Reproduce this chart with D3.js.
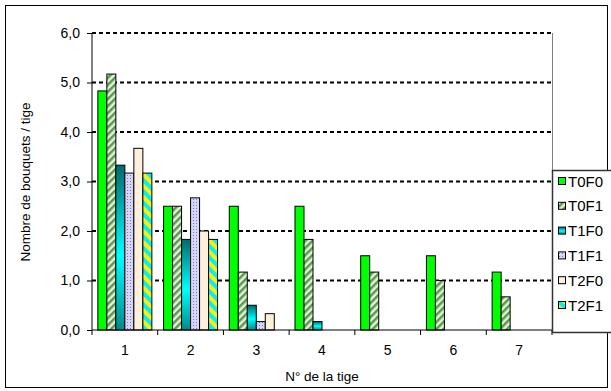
<!DOCTYPE html>
<html><head><meta charset="utf-8">
<script src="https://cdn.jsdelivr.net/npm/d3@7"></script>
<style>body{margin:0;background:#fff}svg{display:block}svg text{font-family:Arial,"Liberation Sans",sans-serif}</style>
</head><body><svg id="c" width="611" height="391"></svg>
<script>
const categories = ["1","2","3","4","5","6","7"];
const seriesNames = ["T0F0","T0F1","T1F0","T1F1","T2F0","T2F1"];
const T0F0 = [4.83,2.5,2.5,2.5,1.5,1.5,1.17];
const T0F1 = [5.17,2.5,1.17,1.83,1.17,1.0,0.67];
const T1F0 = [3.33,1.83,0.5,0.17,0,0,0];
const T1F1 = [3.17,2.67,0.17,0,0,0,0];
const T2F0 = [3.67,2.0,0.33,0,0,0,0];
const T2F1 = [3.17,1.83,0,0,0,0,0];
const yTicks = [0,1,2,3,4,5,6];
const seriesValues = [T0F0,T0F1,T1F0,T1F1,T2F0,T2F1];

const svg = d3.select("#c");
const defs = svg.append("defs");
function stripes(id, c1, c2, size, angle){
  const p = defs.append("pattern").attr("id",id).attr("patternUnits","userSpaceOnUse")
    .attr("width",size).attr("height",size).attr("patternTransform","rotate("+angle+")");
  p.append("rect").attr("width",size).attr("height",size).attr("fill",c1);
  p.append("rect").attr("width",size/2).attr("height",size).attr("fill",c2);
}
stripes("pT0F1","#eef3c6","#4f9a63",5,45);
stripes("pT2F1","#00f0ff","#ffee00",8,-45);
const g1 = defs.append("linearGradient").attr("id","gT1F0").attr("x1",0).attr("y1",0).attr("x2",0).attr("y2",1);
g1.append("stop").attr("offset","0%").attr("stop-color","#006a6a");
g1.append("stop").attr("offset","55%").attr("stop-color","#00ffff");
g1.append("stop").attr("offset","100%").attr("stop-color","#008a8a");
const pd = defs.append("pattern").attr("id","pT1F1").attr("patternUnits","userSpaceOnUse").attr("width",3).attr("height",3);
pd.append("rect").attr("width",3).attr("height",3).attr("fill","#d4d8f8");
pd.append("rect").attr("x",1).attr("y",1).attr("width",1).attr("height",1).attr("fill","#9a62c8");
const fills = ["#00ff00","url(#pT0F1)","url(#gT1F0)","url(#pT1F1)","#fff0dc","url(#pT2F1)"];

svg.append("rect").attr("x",5.5).attr("y",5.5).attr("width",602).attr("height",382)
  .attr("fill","none").attr("stroke","#000").attr("stroke-width",1);

const L=92, R=552, T=33, B=330;
const x = d3.scaleBand().domain(categories).range([L,R]).paddingInner(0).paddingOuter(0);
const y = d3.scaleLinear().domain([0,6]).range([B,T]);

svg.append("g").selectAll("line").data(yTicks.filter(d=>d>0)).join("line")
  .attr("x1",L).attr("x2",R).attr("y1",d=>y(d)).attr("y2",d=>y(d))
  .attr("stroke","#000").attr("stroke-width",2).attr("stroke-dasharray","4,3");
svg.append("line").attr("x1",R+0.5).attr("x2",R+0.5).attr("y1",T).attr("y2",B).attr("stroke","#808080");

const bw = x.bandwidth()/(6+1.3);
seriesNames.forEach((s,i)=>{
  svg.append("g").selectAll("rect").data(categories.map((c,j)=>({c,v:seriesValues[i][j]})).filter(d=>d.v>0)).join("rect")
    .attr("x",d=>x(d.c)+bw*0.65+i*bw).attr("width",bw)
    .attr("y",d=>y(d.v)).attr("height",d=>B-y(d.v))
    .attr("fill",fills[i]).attr("stroke","#000").attr("stroke-width",1);
});

const ya = svg.append("g").attr("transform",`translate(${L},0)`)
  .call(d3.axisLeft(y).tickValues(yTicks).tickSize(5).tickFormat(d=>d3.format(".1f")(d).replace(".",",")));
ya.select(".domain").attr("stroke","#000").attr("d",`M0,${T}V${B}`);
ya.selectAll("text").attr("font-size",14).attr("fill","#000").attr("x",-12);
const xa = svg.append("g").attr("transform",`translate(0,${B})`)
  .call(d3.axisBottom(x).tickSize(0).tickPadding(15));
xa.select(".domain").attr("stroke","#000").attr("d",`M${L},0H${R}`);
xa.selectAll("text").attr("font-size",14).attr("fill","#000");
xa.selectAll("line.sep").data(categories.concat(["end"])).join("line").attr("class","sep")
  .attr("x1",(d,i)=>L+i*x.bandwidth()).attr("x2",(d,i)=>L+i*x.bandwidth()).attr("y1",0).attr("y2",5).attr("stroke","#000");

svg.append("text").attr("x",322).attr("y",381).attr("text-anchor","middle").attr("font-size",13.5).text("N° de la tige");
svg.append("text").attr("transform","translate(30,182) rotate(-90)").attr("text-anchor","middle").attr("font-size",13.5).text("Nombre de bouquets / tige");

const lg = svg.append("g");
lg.append("rect").attr("x",552.5).attr("y",170.5).attr("width",62).attr("height",162).attr("fill","#fff").attr("stroke","#333").attr("stroke-width",1.5);
seriesNames.forEach((s,i)=>{
  const yy = 181 + i*24.8;
  lg.append("rect").attr("x",558.5).attr("y",yy-3.5).attr("width",7).attr("height",7).attr("fill",fills[i]).attr("stroke","#000");
  lg.append("text").attr("x",568).attr("y",yy+5.5).attr("font-size",15).text(s);
});
</script></body></html>
